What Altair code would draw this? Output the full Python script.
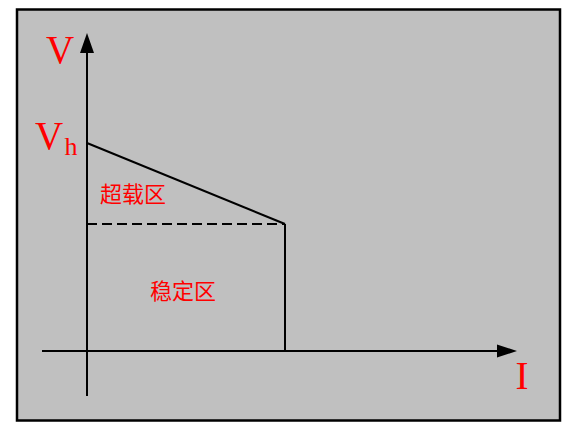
import altair as alt
import pandas as pd

# schematic values (abstract units, origin at axes crossing)
vh = 208          # V_h level
corner_i = 198    # current limit of the stable zone
corner_v = 127    # voltage at the boundary
axis_x = [-45, 415]   # x-axis extent (before arrow)
axis_y = [-45, 300]   # y-axis extent (before arrow)
arrow_x = 420
arrow_y = 308
box_x = [-70, 473]
box_y = [-69.5, 341.5]

labels_big = ["V", "V", "I"]
labels_big_x = [-27, -38, 435]
labels_big_y = [288, 202, -38]
sub_label = ["h"]
sub_x = [-16]
sub_y = [196]
zone_labels = ["超载区", "稳定区"]
zone_x = [46, 96]
zone_y = [156, 59]

X = alt.Scale(domain=[-79, 489], nice=False, zero=False)
Y = alt.Scale(domain=[-71, 343], nice=False, zero=False)

enc = dict(x=alt.X("x:Q", scale=X, axis=None), y=alt.Y("y:Q", scale=Y, axis=None))

box = alt.Chart(pd.DataFrame({"x": [box_x[0]], "x2": [box_x[1]], "y": [box_y[0]], "y2": [box_y[1]]})).mark_rect(
    fill="#C0C0C0", stroke="black", strokeWidth=2.5
).encode(x2="x2", y2="y2", **enc)

axes_df = pd.DataFrame({
    "x": [axis_x[0], 0], "x2": [axis_x[1], 0],
    "y": [0, axis_y[0]], "y2": [0, axis_y[1]],
})
axes = alt.Chart(axes_df).mark_rule(color="black", strokeWidth=2).encode(x2="x2", y2="y2", **enc)

solid_df = pd.DataFrame({
    "x": [0, corner_i], "x2": [corner_i, corner_i],
    "y": [vh, corner_v], "y2": [corner_v, 0],
})
solid = alt.Chart(solid_df).mark_rule(color="black", strokeWidth=2).encode(x2="x2", y2="y2", **enc)

dash_df = pd.DataFrame({"x": [0], "x2": [corner_i], "y": [corner_v], "y2": [corner_v]})
dashed = alt.Chart(dash_df).mark_rule(color="black", strokeWidth=2, strokeDash=[10, 5]).encode(
    x2="x2", y2="y2", **enc)

arrow_up = alt.Chart(pd.DataFrame({"x": [0], "y": [arrow_y]})).mark_point(
    shape="M-0.7,1L0,-1L0.7,1Z", size=400, filled=True, fill="black", opacity=1
).encode(**enc)

arrow_right = alt.Chart(pd.DataFrame({"x": [arrow_x], "y": [0]})).mark_point(
    shape="M-1,-0.65L1,0L-1,0.65Z", size=400, filled=True, fill="black", opacity=1
).encode(**enc)

big_text = alt.Chart(pd.DataFrame({"t": labels_big, "x": labels_big_x, "y": labels_big_y})).mark_text(
    font="Liberation Serif", fontSize=39, color="red", align="center", baseline="alphabetic"
).encode(text="t:N", **enc)

sub_text = alt.Chart(pd.DataFrame({"t": sub_label, "x": sub_x, "y": sub_y})).mark_text(
    font="Liberation Serif", fontSize=26, color="red", align="center", baseline="alphabetic"
).encode(text="t:N", **enc)

zone_text = alt.Chart(pd.DataFrame({"t": zone_labels, "x": zone_x, "y": zone_y})).mark_text(
    font="Noto Sans CJK SC", fontSize=22, color="red", align="center", baseline="middle"
).encode(text="t:N", **enc)

chart = alt.layer(box, dashed, solid, axes, arrow_up, arrow_right, big_text, sub_text, zone_text).properties(
    width=568, height=414, autosize=alt.AutoSizeParams(type="none"), padding=0, background="white"
).configure_view(stroke=None)

chart.save("out.html", embed_options={"renderer": "svg", "actions": False})
